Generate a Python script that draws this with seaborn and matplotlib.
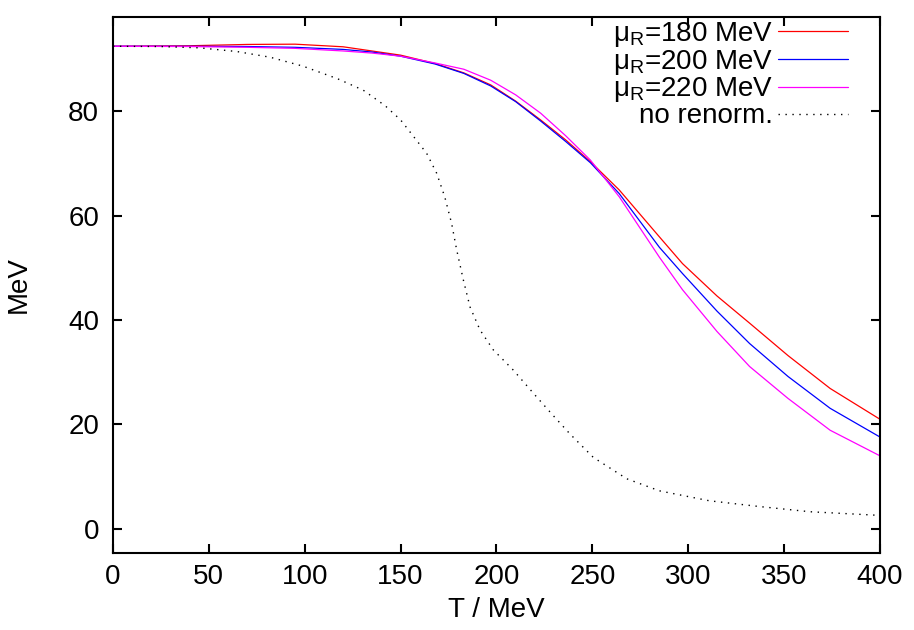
import numpy as np
import pandas as pd
import matplotlib
matplotlib.use("Agg")
import matplotlib.pyplot as plt
import seaborn as sns

# values
T_renorm = [0, 40, 70, 95, 120, 135, 150, 168, 183, 197, 210, 223, 236, 249, 264, 285, 297, 315, 332, 352, 374, 400]
mu180 = [92.4, 92.5, 92.75, 92.8, 92.3, 91.5, 90.7, 89.1, 87.3, 85.0, 81.9, 78.3, 74.5, 70.3, 64.9, 55.9,
         50.8, 44.6, 39.4, 33.2, 26.9, 21.0]
mu200 = [92.4, 92.4, 92.35, 92.2, 91.8, 91.3, 90.5, 89.0, 87.2, 84.8, 81.8, 78.1, 74.2, 70.1, 64.2, 53.9,
         48.9, 41.7, 35.5, 29.2, 23.1, 17.6]
mu220 = [92.4, 92.35, 92.2, 92.0, 91.5, 91.1, 90.5, 89.2, 88.0, 85.9, 83.1, 79.6, 75.3, 70.6, 63.6, 52.0,
         45.8, 37.8, 31.1, 25.0, 18.9, 14.0]

T_bare = [0, 25, 45, 64.5, 82, 99, 117, 130.5, 142, 150, 156.6, 163.6, 168.8, 173, 176.6, 179.2, 182.7,
          186.2, 191.4, 198.3, 208.8, 219.2, 229.6, 238.3, 250.5, 268, 285, 311, 337, 363.5, 400]
bare = [92.4, 92.35, 92.1, 91.4, 90.3, 88.6, 86.2, 84.0, 81.0, 78.3, 75.2, 71.9, 68.1, 63.6, 58.5, 53.5,
        47.7, 42.5, 38.1, 34.3, 30.4, 26.0, 21.7, 18.2, 13.7, 9.6, 7.3, 5.4, 4.3, 3.3, 2.6]

labels = ["μ$_\\mathrm{R}$=180 MeV", "μ$_\\mathrm{R}$=200 MeV", "μ$_\\mathrm{R}$=220 MeV", "no renorm."]
colors = ["#ff0000", "#0000ff", "#ff00ff", "#000000"]

sns.set_style("ticks")
plt.rcParams["font.family"] = ["Liberation Sans", "DejaVu Sans"]
plt.rcParams["mathtext.fontset"] = "custom"
plt.rcParams["mathtext.rm"] = "Liberation Sans"
plt.rcParams["font.size"] = 20
plt.rcParams["text.color"] = "black"
plt.rcParams["axes.labelcolor"] = "black"
plt.rcParams["xtick.color"] = "black"
plt.rcParams["ytick.color"] = "black"

fig = plt.figure(figsize=(9.14, 6.3), dpi=100)
ax = fig.add_axes([0.1236, 0.1222, 0.8392, 0.8508])

for vals, lab, col in zip([mu180, mu200, mu220], labels[:3], colors[:3]):
    sns.lineplot(x=T_renorm, y=vals, ax=ax, color=col, lw=0.9, label=lab, sort=False)
sns.lineplot(x=T_bare, y=bare, ax=ax, color=colors[3], lw=1.0, linestyle=(0, (1, 4)),
             label=labels[3], sort=False)

ax.set_xlim(0, 400)
ax.set_ylim(-4.6, 98)
ax.set_xticks(np.arange(0, 401, 50))
ax.set_yticks(np.arange(0, 81, 20))
ax.tick_params(direction="in", length=6.5, width=1.5, top=True, right=True, labelsize=20,
               color="black", labelcolor="black")
ax.tick_params(axis="x", pad=8)
ax.tick_params(axis="y", pad=10)
for s in ax.spines.values():
    s.set_linewidth(1.5)
    s.set_color("black")

ax.set_xlabel("T / MeV", fontsize=20, labelpad=5, color="black")
ax.set_ylabel("MeV", fontsize=20, labelpad=26, color="black")

leg = ax.legend(loc="upper right", bbox_to_anchor=(0.958, 0.995), frameon=False, markerfirst=False,
                handlelength=2.5, handletextpad=0.2, labelspacing=-0.04, borderpad=0, borderaxespad=0,
                fontsize=20)
for t in leg.get_texts():
    t.set_color("black")

fig.savefig("out.png", dpi=100)
